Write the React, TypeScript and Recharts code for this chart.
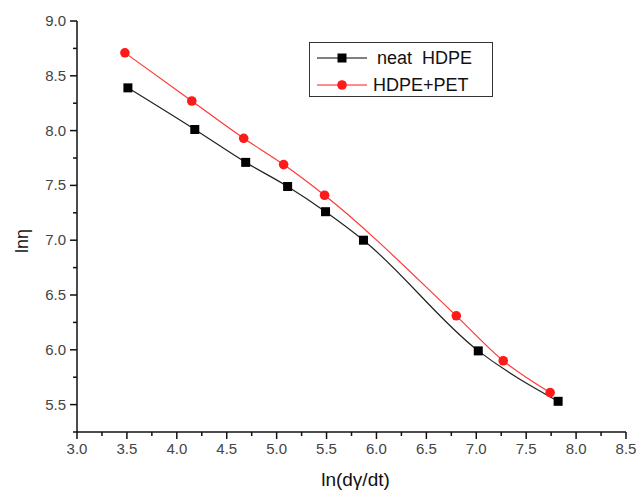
import React from 'react';
import { LineChart, Line, XAxis, YAxis, Legend } from 'recharts';

const neatX = [3.51, 4.18, 4.69, 5.11, 5.49, 5.87, 7.02, 7.82];
const neatY = [8.39, 8.01, 7.71, 7.49, 7.26, 7.0, 5.99, 5.53];
const blendX = [3.48, 4.15, 4.67, 5.07, 5.48, 6.8, 7.27, 7.74];
const blendY = [8.71, 8.27, 7.93, 7.69, 7.41, 6.31, 5.9, 5.61];

const xTicks = [3.0, 3.25, 3.5, 3.75, 4.0, 4.25, 4.5, 4.75, 5.0, 5.25, 5.5, 5.75, 6.0, 6.25, 6.5, 6.75, 7.0, 7.25, 7.5, 7.75, 8.0, 8.25, 8.5];
const yTicks = [5.25, 5.5, 5.75, 6.0, 6.25, 6.5, 6.75, 7.0, 7.25, 7.5, 7.75, 8.0, 8.25, 8.5, 8.75, 9.0];
const xMajor = [3.0, 3.5, 4.0, 4.5, 5.0, 5.5, 6.0, 6.5, 7.0, 7.5, 8.0, 8.5];
const yMajor = [5.5, 6.0, 6.5, 7.0, 7.5, 8.0, 8.5, 9.0];

const neatData = neatX.map((x, i) => ({ x, y: neatY[i] }));
const blendData = blendX.map((x, i) => ({ x, y: blendY[i] }));

const FONT = 'Arial, "Liberation Sans", sans-serif';

const isMajor = (v: number, list: number[]) => list.some((m) => Math.abs(m - v) < 1e-6);

const XTick = (props: any) => {
  const { x, y, payload } = props;
  const major = isMajor(payload.value, xMajor);
  return (
    <g>
      <line x1={x} x2={x} y1={y} y2={y + (major ? 7 : 4)} stroke="#111" strokeWidth={1.5} />
      {major && (
        <text x={x} y={y + 22} textAnchor="middle" fontSize={15} fill="#444" fontFamily={FONT}>
          {payload.value.toFixed(1)}
        </text>
      )}
    </g>
  );
};

const YTick = (props: any) => {
  const { x, y, payload } = props;
  const major = isMajor(payload.value, yMajor);
  return (
    <g>
      <line x1={x} x2={x - (major ? 7 : 4)} y1={y} y2={y} stroke="#111" strokeWidth={1.5} />
      {major && (
        <text x={x - 11} y={y + 5} textAnchor="end" fontSize={15} fill="#444" fontFamily={FONT}>
          {payload.value.toFixed(1)}
        </text>
      )}
    </g>
  );
};

const Square = (props: any) => {
  const { cx, cy } = props;
  if (cx == null || cy == null) return null;
  return <rect x={cx - 4.5} y={cy - 4.5} width={9} height={9} fill="#000" />;
};

const Dot = (props: any) => {
  const { cx, cy } = props;
  if (cx == null || cy == null) return null;
  return <circle cx={cx} cy={cy} r={4.8} fill="#ff1a1a" />;
};

const LegendBox = () => (
  <div
    style={{
      width: 184,
      height: 55,
      border: '1.5px solid #333',
      boxSizing: 'border-box',
      background: '#fff',
      fontFamily: FONT,
      position: 'relative',
    }}
  >
    <svg width={60} height={55} style={{ position: 'absolute', left: 0, top: 0 }}>
      <line x1={7} x2={57} y1={15} y2={15} stroke="#000" strokeWidth={1} />
      <rect x={27.5} y={10.5} width={9} height={9} fill="#000" />
      <line x1={7} x2={57} y1={42} y2={42} stroke="#ff1a1a" strokeWidth={1} />
      <circle cx={32} cy={42} r={4.8} fill="#ff1a1a" />
    </svg>
    <div style={{ position: 'absolute', left: 67, top: 4, fontSize: 18, color: '#111', whiteSpace: 'pre', lineHeight: '22px' }}>
      neat  HDPE
    </div>
    <div style={{ position: 'absolute', left: 63, top: 31, fontSize: 18, color: '#111', whiteSpace: 'pre', lineHeight: '22px' }}>
      HDPE+PET
    </div>
  </div>
);

const XLabel = (props: any) => {
  const vb = props.viewBox || {};
  return (
    <text x={vb.x + vb.width / 2 + 4} y={vb.y + 54} textAnchor="middle" fontSize={19} fill="#111" fontFamily={FONT}>
      ln(dγ/dt)
    </text>
  );
};

const YLabel = () => {
  const cx = 22;
  const cy = 241;
  return (
    <text
      x={cx}
      y={cy}
      textAnchor="middle"
      dominantBaseline="central"
      fontSize={18}
      fill="#111"
      fontFamily={FONT}
      transform={`rotate(-90, ${cx}, ${cy})`}
    >
      lnη
    </text>
  );
};

export default function App() {
  return (
    <div style={{ width: 639, height: 491, position: 'absolute', left: 0, top: 0, background: '#fff' }}>
      <LineChart
        width={639}
        height={491}
        margin={{ top: 21, right: 13, left: 17, bottom: 19 }}
        style={{ overflow: 'visible' }}
      >
        <XAxis
          type="number"
          dataKey="x"
          domain={[3, 8.5]}
          ticks={xTicks}
          interval={0}
          allowDataOverflow
          height={40}
          axisLine={{ stroke: '#111', strokeWidth: 1.5 }}
          tickLine={false}
          tickSize={0}
          tickMargin={0}
          tick={<XTick />}
          label={<XLabel />}
        />
        <YAxis
          type="number"
          dataKey="y"
          domain={[5.25, 9]}
          ticks={yTicks}
          interval={0}
          allowDataOverflow
          width={60}
          axisLine={{ stroke: '#111', strokeWidth: 1.5 }}
          tickLine={false}
          tickSize={0}
          tickMargin={0}
          tick={<YTick />}
          label={<YLabel />}
        />
        <Legend
          content={<LegendBox />}
          wrapperStyle={{ position: 'absolute', left: 309, top: 42, width: 184, height: 0, overflow: 'visible' }}
        />
        <Line
          data={neatData}
          dataKey="y"
          name="neat  HDPE"
          type="monotone"
          stroke="#222"
          strokeWidth={1.2}
          dot={<Square />}
          activeDot={false}
          isAnimationActive={false}
        />
        <Line
          data={blendData}
          dataKey="y"
          name="HDPE+PET"
          type="monotone"
          stroke="#ff3838"
          strokeWidth={1.2}
          dot={<Dot />}
          activeDot={false}
          isAnimationActive={false}
        />
      </LineChart>
    </div>
  );
}
